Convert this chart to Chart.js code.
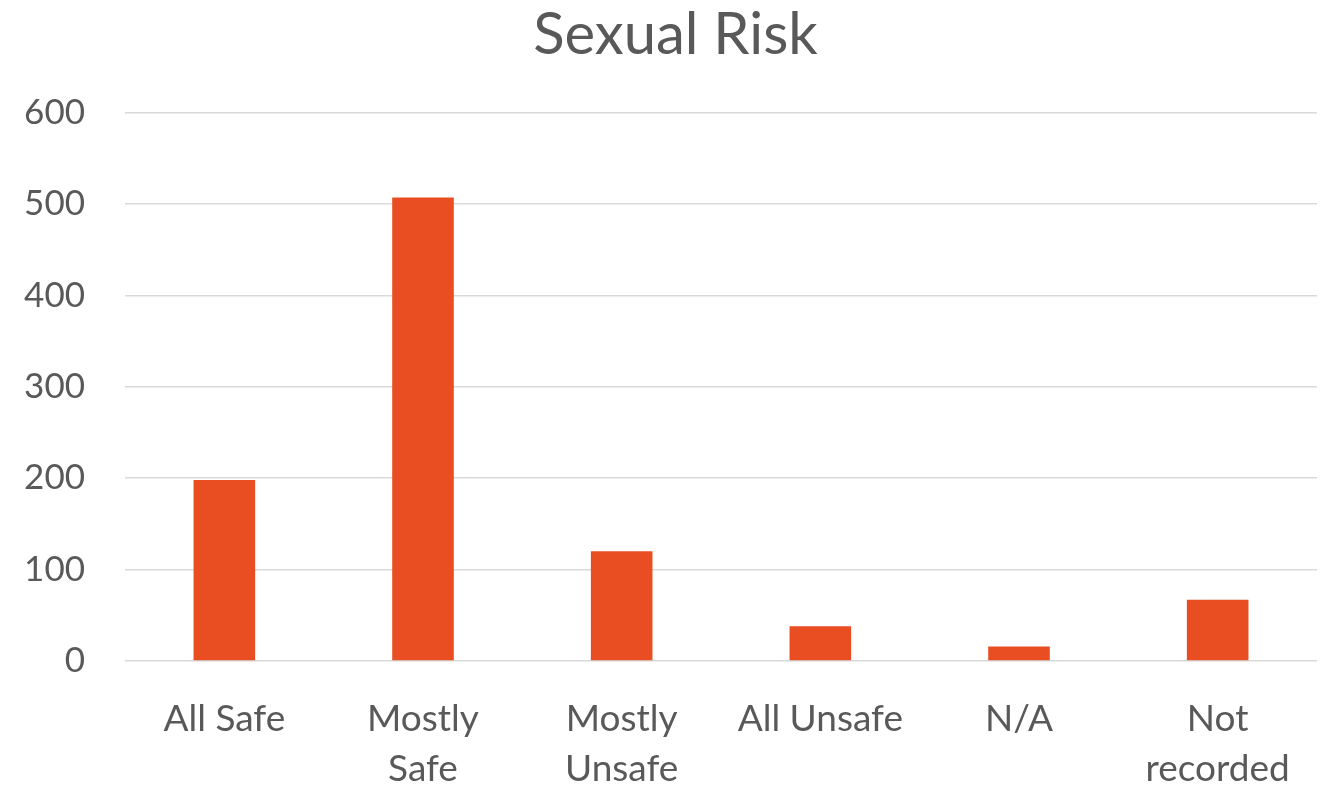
<!DOCTYPE html>
<html>
<head>
<meta charset="utf-8">
<script src="https://cdn.jsdelivr.net/npm/chart.js@4"></script>
<style>
  html, body { margin: 0; padding: 0; background: #fff; }
  #wrap { width: 1327px; height: 787px; }
</style>
</head>
<body>
<div id="wrap"><canvas id="sexualRisk"></canvas></div>
<script>
// Sexual Risk //
const categories = [['All Safe'], ['Mostly', 'Safe'], ['Mostly', 'Unsafe'], ['All Unsafe'], ['N/A'], ['Not', 'recorded']];
const counts = [198, 507, 120, 38, 16, 67];
const yTicks = [0, 100, 200, 300, 400, 500, 600];

const textGrey = '#595959';
Chart.defaults.font.family = 'Lato, "Open Sans", sans-serif';
Chart.defaults.color = textGrey;

// nudge the title a bit right, like the original
const titleShift = {
    id: 'titleShift',
    afterLayout(chart) {
        if (chart.titleBlock) chart.titleBlock.left += 34;
    }
};

const ctx = document.getElementById('sexualRisk').getContext('2d');

const chart = new Chart(ctx, {
    type: 'bar',
    data: {
        labels: categories,
        datasets: [{
            label: 'Sexual Risk',
            data: counts,
            backgroundColor: '#E84E22',
            categoryPercentage: 1,
            barPercentage: 0.31
        }]
    },
    options: {
        responsive: true,
        maintainAspectRatio: false,
        animation: false,
        layout: { padding: { left: 0, right: 10, top: 0, bottom: 0 } },
        plugins: {
            legend: { display: false },
            tooltip: { enabled: false },
            title: {
                display: true,
                text: 'Sexual Risk',
                color: textGrey,
                font: { size: 58, weight: 'normal', lineHeight: 1.2 },
                padding: { top: 0, bottom: 43 }
            }
        },
        scales: {
            x: {
                grid: { display: false },
                border: { display: false },
                ticks: {
                    font: { size: 37, lineHeight: 1.35 },
                    color: textGrey,
                    maxRotation: 0,
                    autoSkip: false,
                    padding: 25
                },
                afterFit: (axis) => { axis.height = 126; }
            },
            y: {
                min: 0,
                max: 600,
                afterBuildTicks: (axis) => { axis.ticks = yTicks.map(v => ({ value: v })); },
                grid: { color: '#d9d9d9', lineWidth: 1.5, drawTicks: false },
                border: { display: false },
                ticks: {
                    font: { size: 35 },
                    color: textGrey,
                    padding: 40
                },
                afterFit: (axis) => { axis.width = 125; }
            }
        }
    },
    plugins: [titleShift]
});
</script>
</body>
</html>
